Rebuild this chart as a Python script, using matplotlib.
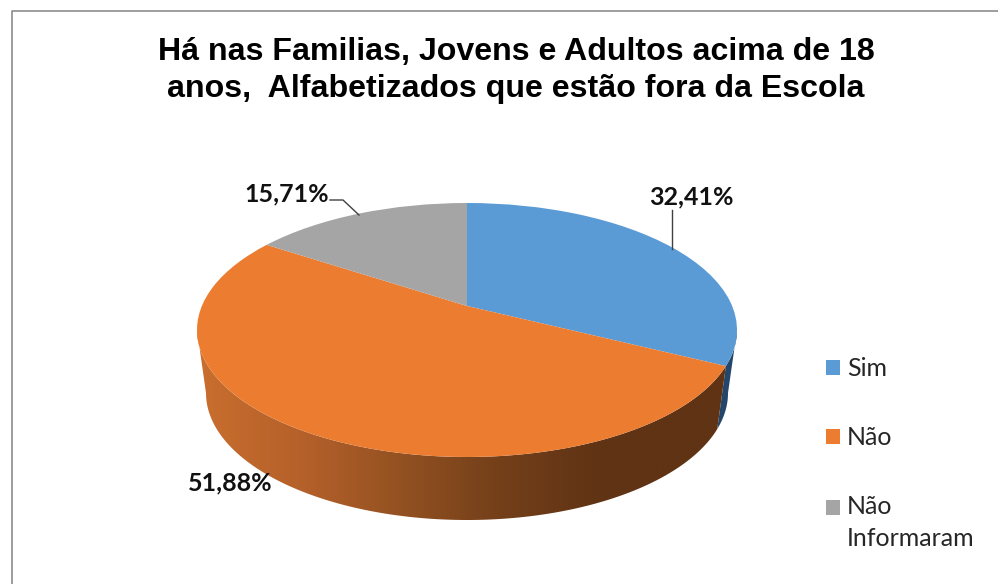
import numpy as np
import matplotlib
matplotlib.use("Agg")
import matplotlib.pyplot as plt
from matplotlib.colors import LinearSegmentedColormap
from matplotlib.patches import Polygon
from matplotlib.transforms import Transform

title = "Há nas Familias, Jovens e Adultos acima de 18\nanos,  Alfabetizados que estão fora da Escola"
categories = ["Sim", "Não", "Não\nInformaram"]
values = [32.41, 51.88, 15.71]
colors = ["#5B9BD5", "#EB7C30", "#A5A5A5"]

W, H = 998, 584
TILT = 0.189      # how far the pie centre sits above the middle of the ellipse
DEPTH = 63 / 127  # wall height in ellipse units
BOTTOM_SCALE = 261 / 270


def tilt(x, y):
    d = 1 + TILT * y
    return x * np.sqrt(1 - TILT ** 2) / d, (y + TILT) / d


class TiltTransform(Transform):
    input_dims = 2
    output_dims = 2
    is_separable = False
    has_inverse = False

    def transform_non_affine(self, values):
        values = np.asarray(values, dtype=float)
        x, y = tilt(values[:, 0], values[:, 1])
        return np.column_stack([x, y])


def wall(a1, a2):
    t = np.radians(np.linspace(a1, a2, 200))
    x, y = tilt(np.cos(t), np.sin(t))
    top = np.column_stack([x, y])
    bottom = np.column_stack([x * BOTTOM_SCALE, y - DEPTH])
    return np.vstack([top, bottom[::-1]])


fig = plt.figure(figsize=(W / 100, H / 100), dpi=100)

# axes run from the top of the ellipse down past the wall
ax = fig.add_axes([197 / W, 1 - 530 / H, 540 / W, 327 / H])
wedges, _ = ax.pie(values, colors=colors, startangle=90, counterclock=False,
                   wedgeprops={"linewidth": 0})
for w in wedges:
    w.set_transform(TiltTransform() + ax.transData)
    w.set_clip_on(False)
    w.set_zorder(3)

# side walls, only the part facing the viewer (stops at the ellipse extremes)
end_sim = 90 - values[0] * 3.6
side = np.degrees(np.arcsin(TILT))

blue_wall = Polygon(wall(-side, end_sim), closed=True, fc="#24466A", ec="none", zorder=1, clip_on=False)
ax.add_patch(blue_wall)

orange_wall = Polygon(wall(end_sim, -180 + side), closed=True, fc="none", ec="none", zorder=1)
ax.add_patch(orange_wall)
cmap = LinearSegmentedColormap.from_list("wall", [
    (0.0, "#C96E2E"), (0.2, "#B4602A"), (0.4, "#8F4F20"),
    (0.55, "#75401A"), (0.75, "#5F3314"), (1.0, "#5F3314")])
grad = ax.imshow(np.linspace(0, 1, 256).reshape(1, -1), cmap=cmap, aspect="auto",
                 extent=(-1, 1, -1 - 73 / 127, 1), zorder=2)
grad.set_clip_path(orange_wall)

ax.set_xlim(-1, 1)
ax.set_ylim(-1 - 73 / 127, 1)
ax.set_aspect("auto")
ax.axis("off")

# overlay in pixel coordinates for the text, leaders and frame
ov = fig.add_axes([0, 0, 1, 1], zorder=5)
ov.set_xlim(0, W)
ov.set_ylim(H, 0)
ov.axis("off")

ov.plot([12.5, 12.5, W], [H, 10.5, 10.5], color="#8C8C8C", lw=1.2)

ov.text(516, 70.5, title, ha="center", va="center", family="Liberation Sans",
        fontweight="bold", fontsize=23.1, linespacing=1.3, color="black")

pct = [f"{v:.2f}%".replace(".", ",") for v in values]
label_font = {"family": "Lato", "fontweight": "bold", "fontsize": 18, "color": "#111111",
              "ha": "center", "va": "center"}
ov.text(691.5, 197, pct[0], **label_font)
ov.text(230.5, 483, pct[1], **label_font)
ov.text(286.5, 194, pct[2], **label_font)

ov.plot([672, 672], [210, 249], color="#404040", lw=1)
ov.plot([330, 343, 359], [200, 200, 215], color="#404040", lw=1)

leg = fig.legend(wedges, categories, loc="upper left", bbox_to_anchor=(826 / W, 1 - 357 / H),
                 frameon=False, borderpad=0, borderaxespad=0, handlelength=0.56, handleheight=0.56,
                 handletextpad=0.28, labelspacing=1.84, prop={"family": "Lato", "size": 18},
                 labelcolor="#262626")
leg.set_zorder(6)
leg.get_texts()[2].set_linespacing(1.47)
h3 = leg.get_patches()[2]
h3.set_y(h3.get_y() + 11.5)

fig.savefig("out.png", dpi=100)
plt.close(fig)
